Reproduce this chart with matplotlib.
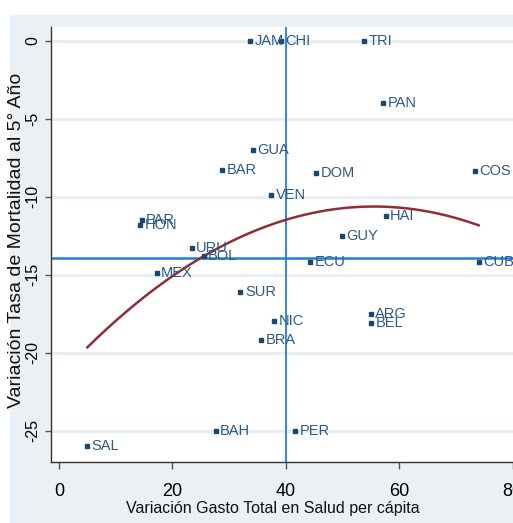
import matplotlib
matplotlib.use("Agg")
import matplotlib.pyplot as plt
from matplotlib.patches import Rectangle
import numpy as np

# country codes with (spending change, mortality change)
countries = ["JAM", "CHI", "TRI", "PAN", "GUA", "BAR", "DOM", "COS", "VEN", "HAI",
             "GUY", "PAR", "HON", "URU", "BOL", "ECU", "CUB", "MEX", "SUR", "NIC",
             "ARG", "BEL", "BRA", "PER", "BAH", "SAL"]
gasto = [33.7, 39.2, 53.8, 57.2, 34.2, 28.8, 45.4, 73.4, 37.4, 57.6,
         49.9, 14.6, 14.3, 23.4, 25.5, 44.3, 74.0, 17.2, 32.0, 37.9,
         55.0, 55.0, 35.6, 41.7, 27.6, 5.0]
mortalidad = [0.0, 0.0, 0.0, -4.0, -7.0, -8.3, -8.5, -8.35, -9.9, -11.2,
              -12.5, -11.5, -11.8, -13.3, -13.8, -14.2, -14.2, -14.9, -16.1, -18.0,
              -17.5, -18.1, -19.2, -25.0, -25.0, -26.0]

ref_x = 40
ref_y = -13.9

x_ticks = [0, 20, 40, 60, 80]
y_ticks = [0, -5, -10, -15, -20, -25]

font = "Liberation Sans"

W, H = 513, 523
fig = plt.figure(figsize=(W / 100, H / 100), dpi=100)
fig.patch.set_facecolor("white")

# stata-like light graph region
fig.patches.append(Rectangle((10 / W, 0), 1, (H - 15) / H, transform=fig.transFigure,
                             facecolor="#eaf0f3", edgecolor="none", zorder=-5))

ax = fig.add_axes([51 / W, (H - 462) / H, (524 - 51) / W, (462 - 27) / H])
ax.set_zorder(2)
ax.set_facecolor("white")
ax.set_xlim(-1.41, 82)
ax.set_ylim(-27.02, 0.9)

for s in ["top", "right"]:
    ax.spines[s].set_visible(False)
for s in ["left", "bottom"]:
    ax.spines[s].set_color("#333333")
    ax.spines[s].set_linewidth(1.0)

ax.set_xticks(x_ticks)
ax.set_yticks(y_ticks)
ax.set_xticklabels([str(v) for v in x_ticks], fontfamily=font, fontsize=13)
ax.set_yticklabels([str(v) for v in y_ticks], fontfamily=font, fontsize=11.5,
                   rotation=90, va="center")
ax.tick_params(axis="x", length=5, width=1, color="#555555", pad=10)
ax.tick_params(axis="y", length=4, width=1, color="#555555", pad=3.5)

ax.grid(axis="y", color="#e8eff2", linewidth=2.2)
ax.set_axisbelow(True)

ax.axvline(ref_x, color="#1f7fe0", linewidth=1.3, zorder=2)
ax.axhline(ref_y, color="#1f7fe0", linewidth=1.8, zorder=2)

# quadratic fit over the data range
coef = np.polyfit(gasto, mortalidad, 2)
xs = np.linspace(min(gasto), max(gasto), 200)
ax.plot(xs, np.polyval(coef, xs), color="#8e2f35", linewidth=1.8, zorder=3)

ax.plot(gasto, mortalidad, linestyle="none", marker="s", markersize=2.3,
        color="#1a476f", zorder=4)
for name, gx, my in zip(countries, gasto, mortalidad):
    ax.annotate(name, (gx, my), xytext=(3.2, 0), textcoords="offset points",
                va="center", ha="left", fontsize=10.5, fontfamily=font,
                color="#2c5a86", zorder=5)

fig.text(273 / W, 1 - 508 / H, "Variación Gasto Total en Salud per cápita",
         ha="center", va="center", fontsize=11.5, fontfamily=font, color="#111111")
fig.text(17 / W, 1 - 240 / H, "Variación Tasa de Mortalidad al 5° Año",
         ha="center", va="center", rotation=90, fontsize=14, fontfamily=font,
         color="#111111")

fig.savefig("out.png", dpi=100)
